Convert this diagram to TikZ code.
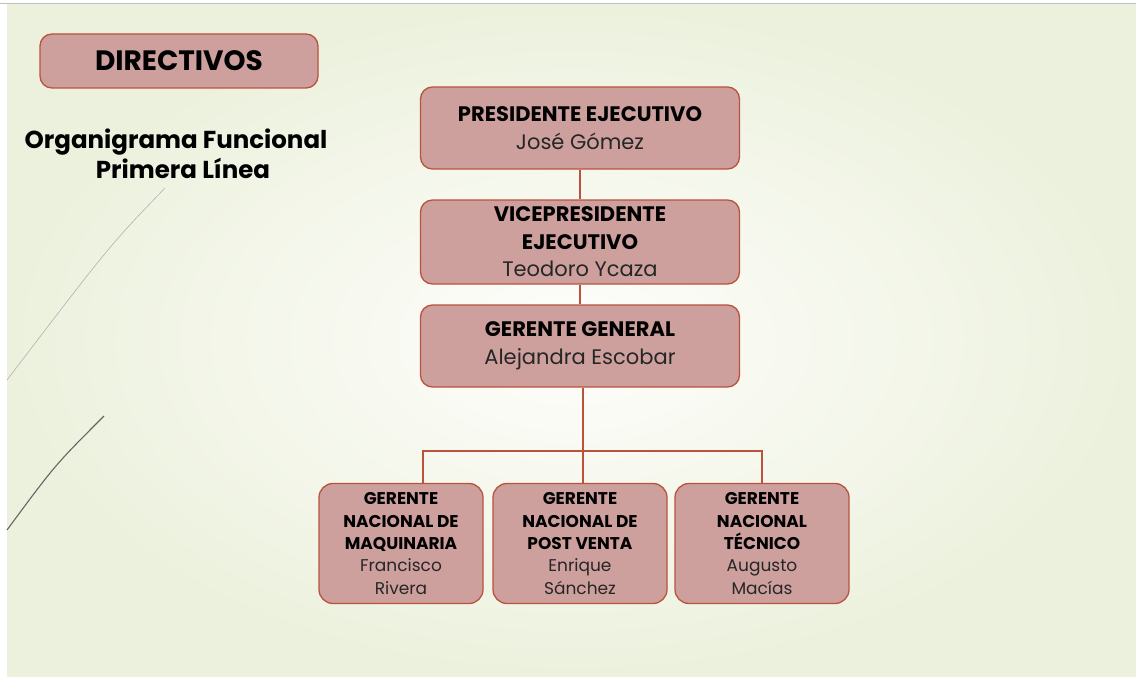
\documentclass[tikz,border=0pt]{standalone}
\usepackage{fontspec}
\setmainfont{Poppins}
\usetikzlibrary{positioning,calc}
\definecolor{rosefill}{RGB}{205,160,158}
\definecolor{roseline}{RGB}{186,82,62}
\definecolor{slidegreen}{RGB}{236,241,221}
\definecolor{slidelight}{RGB}{254,254,252}
\tikzset{
  box/.style={draw=roseline, fill=rosefill, rectangle, rounded corners=12pt, align=center, line width=1.3pt, inner sep=2pt},
  topbox/.style={box, minimum width=319pt, font=\fontsize{21}{27.5}\selectfont},
  subbox/.style={box, rounded corners=14pt, minimum height=120pt, font=\fontsize{17}{22.3}\selectfont},
  conn/.style={draw=roseline, line width=1.4pt},
  ttl/.style={align=center, font=\fontsize{24.5}{30}\selectfont\bfseries},
}
\newcommand{\pname}[1]{{\mdseries\color{black!85}#1}}

\begin{document}
\begin{tikzpicture}[x=1pt,y=-1pt]
\useasboundingbox (0,0) rectangle (1136,677);
\fill[white] (0,0) rectangle (1136,677);
\shade[inner color=slidelight, outer color=slidegreen] (7,4) rectangle (1136,677);
\draw[black!25, line width=1pt] (0,4) -- (1136,4);
\draw[black!30, line width=0.6pt] (165,188) .. controls (110,245) .. (7,380);
\draw[black!60, line width=1.1pt] (104,416) .. controls (55,465) .. (7,530);
\node[box, minimum width=278pt, minimum height=54pt, font=\fontsize{28}{30}\selectfont\bfseries] (dir) at (179,61) {DIRECTIVOS};
\node[ttl] (titulo) at (176,154) {Organigrama Funcional\\\hspace*{14pt}Primera Línea};
\node[topbox, minimum height=82pt] (pres) at (580,128) {\textbf{PRESIDENTE EJECUTIVO}\\\pname{José Gómez}};
\node[topbox, minimum height=84pt] (vice) at (580,242) {\textbf{VICEPRESIDENTE}\\\textbf{EJECUTIVO}\\\pname{Teodoro Ycaza}};
\node[topbox, minimum height=82pt] (gg) at (580,346) {\textbf{GERENTE GENERAL}\\\pname{Alejandra Escobar}};
\node[subbox, minimum width=164pt] (maq) at (401,543.5) {\textbf{GERENTE}\\\textbf{NACIONAL DE}\\\textbf{MAQUINARIA}\\\pname{Francisco}\\\pname{Rivera}};
\node[subbox, minimum width=174pt] (post) at (580,543.5) {\textbf{GERENTE}\\\textbf{NACIONAL DE}\\\textbf{POST VENTA}\\\pname{Enrique}\\\pname{Sánchez}};
\node[subbox, minimum width=174pt] (tec) at (762,543.5) {\textbf{GERENTE}\\\textbf{NACIONAL}\\\textbf{TÉCNICO}\\\pname{Augusto}\\\pname{Macías}};
\coordinate (busL) at (423,451);
\coordinate (busM) at (583,451);
\coordinate (busR) at (762,451);
\draw[conn] (pres) -- (vice);
\draw[conn] (vice) -- (gg);
\draw[conn] (gg.south -| busM) -- (busM |- post.north);
\draw[conn] (busL |- maq.north) -- (busL) -- (busR) -- (busR |- tec.north);
\end{tikzpicture}
\end{document}
